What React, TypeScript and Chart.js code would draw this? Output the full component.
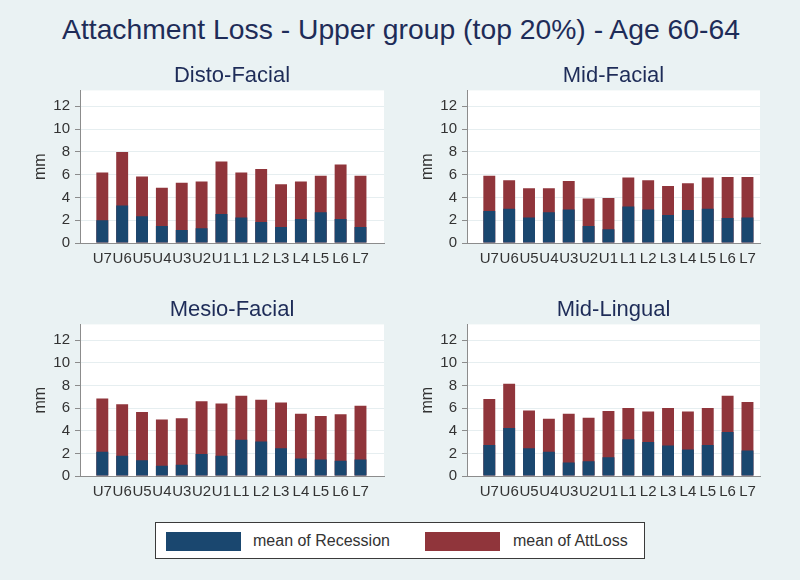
import React, { useEffect, useRef } from 'react';
import { Chart, registerables } from 'chart.js';
Chart.register(...registerables);

const teeth = ['U7', 'U6', 'U5', 'U4', 'U3', 'U2', 'U1', 'L1', 'L2', 'L3', 'L4', 'L5', 'L6', 'L7'];
const yTicks = [0, 2, 4, 6, 8, 10, 12];

const distoRecession = [2.0, 3.3, 2.35, 1.5, 1.15, 1.3, 2.55, 2.25, 1.85, 1.4, 2.1, 2.7, 2.1, 1.4];
const distoAttLoss = [6.2, 8.0, 5.85, 4.85, 5.3, 5.4, 7.15, 6.2, 6.5, 5.15, 5.4, 5.9, 6.9, 5.9];

const midFacialRecession = [2.8, 3.0, 2.25, 2.7, 2.95, 1.5, 1.2, 3.2, 2.95, 2.45, 2.9, 3.0, 2.2, 2.25];
const midFacialAttLoss = [5.9, 5.5, 4.8, 4.8, 5.45, 3.9, 3.95, 5.75, 5.5, 5.0, 5.25, 5.75, 5.8, 5.8];

const mesioRecession = [2.15, 1.8, 1.4, 0.9, 1.0, 1.95, 1.8, 3.2, 3.05, 2.45, 1.55, 1.45, 1.35, 1.45];
const mesioAttLoss = [6.85, 6.35, 5.65, 5.0, 5.1, 6.6, 6.4, 7.1, 6.75, 6.5, 5.5, 5.3, 5.45, 6.2];

const midLingualRecession = [2.75, 4.25, 2.45, 2.15, 1.2, 1.3, 1.65, 3.25, 3.0, 2.7, 2.35, 2.75, 3.9, 2.25];
const midLingualAttLoss = [6.8, 8.15, 5.8, 5.05, 5.5, 5.15, 5.75, 6.0, 5.7, 6.0, 5.7, 6.0, 7.1, 6.55];

const mainTitle = 'Attachment Loss - Upper group (top 20%) - Age 60-64';
const yTitle = 'mm';
const recessionLabel = 'mean of Recession';
const attLossLabel = 'mean of AttLoss';

const FONT = '"Liberation Sans", Arial, Helvetica, sans-serif';
const BLUE = '#1a476f';
const RED = '#90353b';
const NAVY = '#1e2c58';
const BG = '#eaf2f3';
const AXIS = '#8c8c8c';
const GRID = '#e6eef0';
const TEXT = '#333333';

type PanelProps = {
  title: string;
  recession: number[];
  attLoss: number[];
  left: number;
  top: number;
  plotW: number;
  plotH: number;
};

const whiteBg = {
  id: 'whiteBg',
  beforeDraw(chart: any) {
    const { ctx, chartArea } = chart;
    ctx.save();
    ctx.fillStyle = '#ffffff';
    ctx.fillRect(chartArea.left, chartArea.top, chartArea.right - chartArea.left, chartArea.bottom - chartArea.top);
    ctx.restore();
  },
};

const Y_AXIS_W = 60;
const TITLE_H = 38;
const X_AXIS_H = 30;
const RIGHT_PAD = 4;
const PX_PER_TOOTH = 19.86;
const FIRST_OFFSET = 22.3;

function Panel({ title, recession, attLoss, left, top, plotW, plotH }: PanelProps) {
  const ref = useRef<HTMLCanvasElement | null>(null);
  const w = Y_AXIS_W + plotW + RIGHT_PAD;
  const h = TITLE_H + plotH + X_AXIS_H;
  useEffect(() => {
    if (!ref.current) return;
    const xMin = -FIRST_OFFSET / PX_PER_TOOTH;
    const xMax = xMin + plotW / PX_PER_TOOTH;
    const chart = new Chart(ref.current, {
      type: 'bar',
      data: {
        datasets: [
          {
            label: recessionLabel,
            data: recession.map((v, i) => ({ x: i, y: v })),
            backgroundColor: BLUE,
            borderWidth: 0,
            grouped: false,
            barPercentage: 0.6,
            categoryPercentage: 1,
          } as any,
          {
            label: attLossLabel,
            data: attLoss.map((v, i) => ({ x: i, y: v })),
            backgroundColor: RED,
            borderWidth: 0,
            grouped: false,
            barPercentage: 0.6,
            categoryPercentage: 1,
          } as any,
        ],
      },
      options: {
        animation: false,
        responsive: false,
        maintainAspectRatio: false,
        devicePixelRatio: 1,
        layout: { padding: { left: 0, right: RIGHT_PAD, top: 0, bottom: 0 } },
        plugins: {
          legend: { display: false },
          tooltip: { enabled: false },
          title: {
            display: true,
            fullSize: false,
            text: title,
            color: NAVY,
            font: { family: FONT, size: 22, weight: 'normal', lineHeight: 1.2 },
            padding: { top: 11, bottom: 1 },
          },
        },
        scales: {
          x: {
            type: 'linear',
            min: xMin,
            max: xMax,
            offset: false,
            grid: { display: false, drawTicks: false },
            border: { display: true, color: AXIS, width: 1 },
            ticks: {
              color: TEXT,
              font: { family: FONT, size: 15 },
              padding: 7,
              autoSkip: false,
              maxRotation: 0,
              callback: (v: any) => teeth[Number(v)] ?? '',
            },
            afterBuildTicks: (ax: any) => {
              ax.ticks = teeth.map((_, i) => ({ value: i }));
            },
            afterFit: (ax: any) => {
              ax.height = X_AXIS_H;
            },
          },
          y: {
            min: 0,
            max: 13.4,
            grid: { color: GRID, tickColor: AXIS, tickLength: 5 },
            border: { display: true, color: AXIS, width: 1 },
            ticks: { color: TEXT, font: { family: FONT, size: 15 }, padding: 5 },
            afterBuildTicks: (ax: any) => {
              ax.ticks = yTicks.map((v) => ({ value: v }));
            },
            afterFit: (ax: any) => {
              ax.width = Y_AXIS_W;
            },
            title: {
              display: true,
              text: yTitle,
              color: TEXT,
              font: { family: FONT, size: 16 },
              padding: { top: 11, bottom: 0 },
            },
          },
        },
      } as any,
      plugins: [whiteBg],
    });
    return () => chart.destroy();
  }, [title, recession, attLoss, plotW, plotH]);
  return (
    <canvas
      ref={ref}
      width={w}
      height={h}
      style={{ position: 'absolute', left: left - Y_AXIS_W, top: top - TITLE_H, width: w, height: h }}
    />
  );
}

export default function App() {
  return (
    <div
      style={{
        position: 'absolute',
        left: 0,
        top: 0,
        width: 800,
        height: 580,
        background: BG,
        fontFamily: FONT,
        overflow: 'hidden',
      }}
    >
      <div
        style={{
          position: 'absolute',
          left: 0,
          top: 13,
          width: 802,
          textAlign: 'center',
          fontSize: 28.3,
          lineHeight: '32px',
          color: NAVY,
          whiteSpace: 'nowrap',
        }}
      >
        {mainTitle}
      </div>
      <Panel title="Disto-Facial" recession={distoRecession} attLoss={distoAttLoss} left={80} top={90} plotW={304} plotH={153} />
      <Panel title="Mid-Facial" recession={midFacialRecession} attLoss={midFacialAttLoss} left={467} top={90} plotW={293} plotH={153} />
      <Panel title="Mesio-Facial" recession={mesioRecession} attLoss={mesioAttLoss} left={80} top={324} plotW={304} plotH={152} />
      <Panel title="Mid-Lingual" recession={midLingualRecession} attLoss={midLingualAttLoss} left={467} top={324} plotW={293} plotH={152} />
      <div
        style={{
          position: 'absolute',
          left: 155,
          top: 522,
          width: 488,
          height: 35,
          background: '#ffffff',
          border: '1px solid #3a3a3a',
          fontSize: 16,
          color: TEXT,
        }}
      >
        <div style={{ position: 'absolute', left: 10, top: 9, width: 75, height: 19, background: BLUE }} />
        <div style={{ position: 'absolute', left: 97, top: 7, lineHeight: '22px', whiteSpace: 'nowrap' }}>{recessionLabel}</div>
        <div style={{ position: 'absolute', left: 269, top: 9, width: 75, height: 19, background: RED }} />
        <div style={{ position: 'absolute', left: 357, top: 7, lineHeight: '22px', whiteSpace: 'nowrap' }}>{attLossLabel}</div>
      </div>
    </div>
  );
}
